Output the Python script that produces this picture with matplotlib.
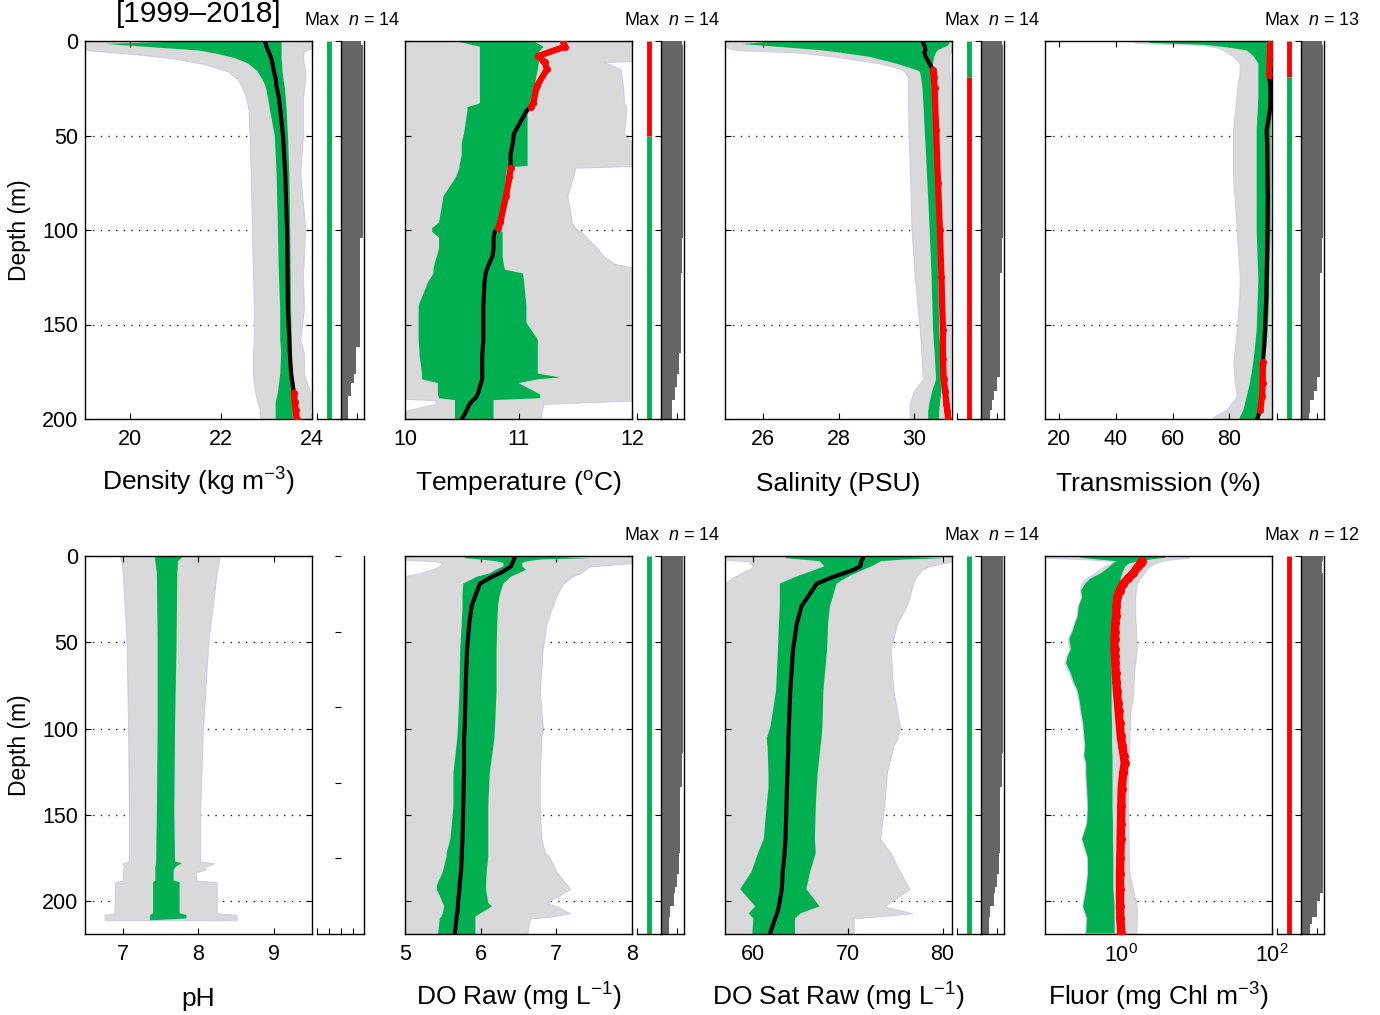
import numpy as np
import matplotlib.pyplot as plt

plt.rcParams['font.family'] = 'Liberation Sans'
plt.rcParams['mathtext.fontset'] = 'custom'
plt.rcParams['mathtext.rm'] = 'Liberation Sans'
plt.rcParams['mathtext.it'] = 'Liberation Sans:italic'
plt.rcParams['mathtext.bf'] = 'Liberation Sans:bold'
plt.rcParams['axes.linewidth'] = 1.0

######################################################################
# profile data (depth in m)

density_depth = [0, 1.5, 3, 5, 6.5, 9, 12, 16, 20, 24, 30, 36, 50, 70, 100, 123, 142, 158, 165, 176, 186, 191, 195, 200]
density_gray_lo = [18.9, 18.9, 18.9, 19.1, 19.9, 20.9, 21.6, 22.15, 22.35, 22.45, 22.55, 22.6, 22.63, 22.65, 22.68, 22.7, 22.72, 22.72, 22.7, 22.7, 22.75, 22.8, 22.85, 22.85]
density_gray_hi = [24.1, 24.1, 24.1, 23.85, 23.8, 23.8, 23.82, 23.85, 23.85, 23.83, 23.8, 23.8, 23.8, 23.74, 23.85, 23.8, 23.82, 23.74, 23.82, 23.82, 23.96, 23.96, 23.96, 23.96]
density_band_lo = [21.5, 19.45, 20.3, 21.5, 21.85, 22.3, 22.6, 22.8, 22.9, 22.98, 23.03, 23.07, 23.18, 23.22, 23.25, 23.27, 23.3, 23.3, 23.32, 23.3, 23.25, 23.2, 23.2, 23.2]
density_band_hi = [23.33, 23.33, 23.33, 23.33, 23.33, 23.33, 23.34, 23.35, 23.37, 23.4, 23.42, 23.44, 23.47, 23.5, 23.52, 23.53, 23.54, 23.55, 23.56, 23.56, 23.57, 23.58, 23.58, 23.58]
density_line = [22.97, 22.98, 23.0, 23.03, 23.06, 23.1, 23.13, 23.16, 23.2, 23.22, 23.27, 23.3, 23.36, 23.41, 23.45, 23.46, 23.47, 23.5, 23.51, 23.54, 23.6, 23.62, 23.64, 23.66]

temp_depth = [0, 3, 8, 10.6, 11, 15, 24, 33, 35, 37, 49, 54, 60, 66, 67, 72, 82, 96, 99, 101, 104, 110, 114, 118, 121, 123, 128, 140, 149, 158, 167, 176, 178, 179, 181, 187, 189, 190, 192, 197, 200]
temp_gray_lo = [9.9, 9.9, 9.9, 9.9, 9.9, 9.9, 9.9, 9.9, 9.9, 9.9, 9.9, 9.9, 9.9, 9.9, 9.9, 9.9, 9.9, 9.9, 9.9, 9.9, 9.9, 9.9, 9.9, 9.9, 9.9, 9.9, 9.9, 9.9, 9.9, 9.9, 9.9, 9.9, 9.9, 9.9, 9.9, 9.9, 9.9, 10.27, 10.27, 9.9, 9.9]
temp_gray_hi = [12.1, 12.1, 12.1, 12.1, 11.75, 11.9, 11.92, 11.93, 11.95, 11.95, 11.93, 12.0, 12.1, 12.1, 11.5, 11.48, 11.43, 11.47, 11.5, 11.55, 11.6, 11.7, 11.75, 11.85, 12.1, 12.1, 12.1, 12.1, 12.1, 12.1, 12.1, 12.1, 12.1, 12.1, 12.1, 12.1, 12.1, 12.1, 11.22, 11.2, 11.2]
temp_band_lo = [10.44, 10.66, 10.66, 10.66, 10.66, 10.66, 10.66, 10.66, 10.55, 10.55, 10.52, 10.5, 10.5, 10.48, 10.48, 10.45, 10.34, 10.3, 10.24, 10.24, 10.3, 10.3, 10.28, 10.26, 10.25, 10.25, 10.2, 10.12, 10.12, 10.12, 10.13, 10.15, 10.15, 10.15, 10.29, 10.29, 10.3, 10.44, 10.44, 10.44, 10.44]
temp_band_hi = [11.13, 11.22, 11.15, 11.18, 11.18, 11.17, 11.14, 11.1, 11.09, 11.08, 11.08, 11.08, 11.08, 11.08, 10.9, 10.89, 10.87, 10.82, 10.8, 10.86, 10.86, 10.86, 10.86, 10.87, 10.88, 11.04, 11.05, 11.07, 11.07, 11.17, 11.17, 11.17, 11.37, 11.17, 11.0, 11.19, 11.19, 10.78, 10.78, 10.78, 10.78]
temp_line = [11.39, 11.41, 11.17, 11.22, 11.23, 11.25, 11.16, 11.13, 11.11, 11.07, 10.96, 10.95, 10.93, 10.93, 10.93, 10.92, 10.89, 10.84, 10.82, 10.79, 10.78, 10.78, 10.77, 10.74, 10.72, 10.71, 10.7, 10.69, 10.69, 10.69, 10.68, 10.68, 10.68, 10.68, 10.67, 10.64, 10.62, 10.6, 10.57, 10.53, 10.5]

sal_depth = [0, 1.6, 2.6, 4.8, 6, 8.3, 11.8, 13.6, 15.3, 16.2, 18.9, 25, 47, 75, 100, 125, 153, 168, 179, 185, 192, 196, 200]
sal_gray_lo = [24.9, 24.9, 24.9, 25.3, 26.9, 27.95, 29.09, 29.45, 29.7, 29.75, 29.84, 29.84, 29.85, 29.9, 29.93, 30.02, 30.15, 30.2, 30.23, 30.0, 29.88, 29.88, 29.88]
sal_gray_hi = [31.05, 31.05, 31.05, 31.0, 30.95, 30.93, 30.92, 30.92, 30.93, 30.93, 30.94, 30.95, 30.95, 30.95, 30.95, 30.95, 30.95, 30.95, 30.95, 30.95, 30.95, 30.95, 30.95]
sal_band_lo = [26.5, 25.47, 26.1, 27.5, 28.0, 28.8, 29.5, 29.79, 30.05, 30.15, 30.18, 30.22, 30.28, 30.35, 30.41, 30.46, 30.5, 30.55, 30.58, 30.48, 30.4, 30.37, 30.37]
sal_band_hi = [30.95, 30.92, 30.88, 30.63, 30.58, 30.53, 30.5, 30.49, 30.48, 30.48, 30.49, 30.5, 30.55, 30.59, 30.62, 30.64, 30.66, 30.7, 30.75, 30.72, 30.68, 30.66, 30.65]
sal_line = [30.22, 30.25, 30.28, 30.3, 30.27, 30.3, 30.4, 30.45, 30.5, 30.51, 30.52, 30.54, 30.58, 30.63, 30.68, 30.72, 30.76, 30.76, 30.78, 30.82, 30.85, 30.88, 30.9]

trans_depth = [0, 1, 2, 3.5, 5, 8, 12, 18, 22, 29, 36, 47, 56, 73, 82, 100, 126, 135, 153, 162, 170, 181, 188, 195, 199, 200]
trans_gray_lo = [46, 47, 70, 76, 78, 81.3, 83.7, 83.5, 83, 82.5, 82, 81.3, 81.3, 81.3, 81.8, 82.6, 83.7, 83.5, 82.6, 82, 81.4, 82, 82.6, 79.0, 74.3, 74]
trans_gray_hi = [95.2, 95.2, 95.2, 95.2, 95.2, 95.2, 95.2, 95.2, 95.2, 95.2, 95.2, 95.2, 95.2, 95.2, 95.2, 95.2, 95.2, 95.2, 95.2, 95.2, 95.2, 95.2, 95.2, 95.2, 95.2, 95.2]
trans_band_lo = [50.8, 52, 71, 80, 86.1, 88.5, 90.2, 90.2, 90.2, 90.2, 90, 89.6, 89.6, 89.6, 89.6, 89.6, 90.2, 90, 89.6, 89, 88.4, 87.2, 86.1, 85, 83.7, 83.5]
trans_band_hi = [93.5, 93.5, 93.5, 93.5, 93.5, 93.5, 93.5, 93.5, 95, 95, 95, 94.5, 94.5, 94.5, 94.5, 94.5, 94, 94, 93.5, 93, 91.3, 91, 90.8, 90.5, 90.3, 90.3]
trans_line = [94.8, 94.6, 94.4, 94.3, 94.3, 94.2, 94.2, 94.0, 94.3, 94.5, 94.3, 93.1, 93.3, 93.4, 93.5, 93.4, 93.1, 93.0, 92.5, 92.2, 91.8, 91.7, 91.5, 90.9, 90.0, 89.8]

ph_depth = [0, 3, 10, 49, 99, 149, 177, 178, 180, 182, 183, 188, 189, 207, 208, 210, 211]
ph_gray_lo = [6.96, 6.98, 7.0, 7.05, 7.07, 7.08, 7.08, 7.0, 7.02, 7.0, 7.0, 7.0, 6.9, 6.89, 6.76, 6.76, 6.76]
ph_gray_hi = [8.28, 8.27, 8.24, 8.13, 8.06, 8.02, 8.02, 8.2, 8.1, 8.08, 7.97, 7.97, 8.24, 8.24, 8.5, 8.5, 8.5]
ph_band_lo = [7.42, 7.43, 7.45, 7.46, 7.46, 7.45, 7.44, 7.44, 7.43, 7.43, 7.43, 7.43, 7.4, 7.4, 7.36, 7.36, 7.36]
ph_band_hi = [7.8, 7.73, 7.72, 7.71, 7.69, 7.68, 7.69, 7.78, 7.7, 7.67, 7.67, 7.67, 7.75, 7.75, 7.84, 7.84, 7.4]

doraw_depth = [0, 1.3, 2, 3, 4, 6, 8, 10, 12, 16, 23, 29, 39, 54, 78, 99, 106, 126, 145, 164, 172, 174, 183, 191, 193, 201, 203, 207, 209, 210, 218, 219]
doraw_gray_lo = [4.95, 4.95, 4.95, 5.4, 5.5, 5.45, 5.35, 5.2, 4.95, 4.95, 4.95, 4.95, 4.95, 4.95, 4.95, 4.95, 4.95, 4.95, 4.95, 4.95, 4.95, 4.95, 4.95, 4.95, 4.95, 4.95, 4.95, 4.95, 4.95, 4.95, 4.95, 4.95]
doraw_gray_hi = [8.05, 8.05, 8.05, 8.05, 8.05, 7.44, 7.38, 7.31, 7.2, 7.09, 7.0, 6.95, 6.87, 6.82, 6.78, 6.82, 6.8, 6.78, 6.78, 6.8, 6.85, 6.9, 7.0, 7.15, 7.18, 6.87, 7.0, 7.18, 6.9, 6.65, 6.62, 6.62]
doraw_band_lo = [5.77, 5.8, 6.0, 6.2, 6.3, 6.3, 6.2, 6.12, 5.95, 5.77, 5.76, 5.76, 5.75, 5.73, 5.72, 5.7, 5.69, 5.64, 5.64, 5.6, 5.55, 5.55, 5.5, 5.42, 5.42, 5.5, 5.52, 5.5, 5.48, 5.46, 5.44, 5.44]
doraw_band_hi = [6.6, 7.44, 6.8, 6.62, 6.55, 6.55, 6.6, 6.5, 6.4, 6.3, 6.25, 6.23, 6.22, 6.21, 6.21, 6.19, 6.18, 6.12, 6.1, 6.1, 6.1, 6.1, 6.08, 6.07, 6.07, 6.1, 6.15, 6.0, 5.93, 5.93, 5.93, 5.93]
doraw_line = [6.45, 6.45, 6.44, 6.43, 6.42, 6.4, 6.33, 6.25, 6.15, 5.99, 5.93, 5.88, 5.85, 5.82, 5.8, 5.79, 5.78, 5.78, 5.77, 5.76, 5.75, 5.75, 5.74, 5.72, 5.72, 5.7, 5.7, 5.69, 5.68, 5.68, 5.66, 5.66]

dosat_depth = [0, 1.3, 2, 3, 6, 8, 12, 16, 29, 39, 54, 78, 99, 106, 110, 126, 134, 145, 164, 172, 183, 193, 203, 207, 210, 218, 219]
dosat_gray_lo = [56.9, 56.9, 56.9, 59.5, 60, 59.5, 58, 56.9, 56.9, 56.9, 56.9, 56.9, 56.9, 56.9, 56.9, 56.9, 56.9, 56.9, 56.9, 56.9, 56.9, 56.9, 56.9, 56.9, 56.9, 56.9, 56.9]
dosat_gray_hi = [81.1, 81.1, 81.1, 81.1, 78.5, 77.8, 77.2, 76.9, 76.2, 75.2, 74.5, 74.8, 75.5, 75.2, 74.8, 74.1, 74.0, 73.8, 73.4, 74.5, 75.5, 76.5, 73.8, 76.8, 70.6, 70.6, 70.6]
dosat_band_lo = [63.2, 63.5, 65, 67, 67.5, 66.5, 64.5, 62.8, 62.8, 62.7, 62.6, 62.4, 61.8, 61.4, 61.5, 61.6, 61.6, 61.4, 61.1, 60.5, 59.8, 58.6, 60.2, 59.5, 60.0, 59.9, 59.9]
dosat_band_hi = [74, 80.1, 76, 73.5, 72.5, 71.6, 70, 68.8, 68.1, 67.9, 67.8, 67.4, 67.3, 67.2, 67.1, 66.8, 66.7, 66.6, 66.5, 66.6, 66.0, 65.6, 67.0, 65.0, 64.4, 64.4, 64.4]
dosat_line = [71.6, 71.6, 71.5, 71.4, 71.3, 70.6, 68.5, 66.7, 65.1, 64.6, 64.2, 63.9, 63.75, 63.7, 63.7, 63.6, 63.55, 63.5, 63.4, 63.3, 63.1, 63.0, 62.7, 62.5, 62.3, 61.8, 61.8]

fluor_depth = [0, 1, 2, 3, 4.2, 6, 10, 13, 16, 20, 24, 29, 35, 39, 44, 48, 54, 58, 62, 68, 73, 78, 85, 90, 97, 104, 110, 116, 120, 126, 135, 145, 155, 164, 175, 184, 193, 203, 210, 218.5]
fluor_gray_lo = [0.105, 0.105, 0.4, 0.8, 0.75, 0.6, 0.45, 0.35, 0.3, 0.29, 0.3, 0.27, 0.26, 0.24, 0.22, 0.2, 0.21, 0.19, 0.18, 0.21, 0.23, 0.26, 0.28, 0.29, 0.31, 0.32, 0.33, 0.32, 0.34, 0.34, 0.35, 0.36, 0.35, 0.3, 0.36, 0.36, 0.34, 0.31, 0.35, 0.34]
fluor_gray_hi = [8.25, 8.0, 4.5, 3.3, 2.8, 2.4, 2.0, 1.8, 1.63, 1.58, 1.55, 1.55, 1.55, 1.58, 1.6, 1.6, 1.63, 1.6, 1.55, 1.5, 1.48, 1.47, 1.4, 1.35, 1.32, 1.3, 1.3, 1.28, 1.26, 1.25, 1.24, 1.24, 1.26, 1.27, 1.28, 1.3, 1.45, 1.63, 1.63, 1.6]
fluor_band_lo = [0.3, 0.29, 0.5, 0.88, 0.8, 0.72, 0.55, 0.4, 0.34, 0.3, 0.31, 0.28, 0.27, 0.25, 0.23, 0.21, 0.22, 0.2, 0.19, 0.22, 0.24, 0.27, 0.29, 0.3, 0.32, 0.33, 0.34, 0.33, 0.35, 0.35, 0.36, 0.37, 0.36, 0.31, 0.37, 0.37, 0.35, 0.32, 0.36, 0.35]
fluor_band_hi = [3.9, 3.9, 2.5, 1.8, 1.3, 1.15, 1.05, 1.0, 0.97, 0.9, 0.85, 0.82, 0.8, 0.78, 0.77, 0.76, 0.76, 0.76, 0.76, 0.76, 0.76, 0.76, 0.76, 0.76, 0.77, 0.77, 0.77, 0.78, 0.78, 0.78, 0.78, 0.78, 0.79, 0.79, 0.8, 0.8, 0.8, 0.83, 0.83, 0.83]
fluor_line = [1.9, 1.95, 1.92, 1.9, 1.85, 1.7, 1.47, 1.25, 1.08, 0.97, 0.9, 0.88, 0.87, 0.85, 0.84, 0.83, 0.83, 0.84, 0.85, 0.86, 0.88, 0.89, 0.92, 0.94, 0.97, 1.0, 1.05, 1.1, 1.13, 1.08, 1.03, 1.02, 1.01, 1.0, 0.99, 0.98, 0.98, 0.98, 0.99, 1.02]

# number of casts per depth (side bars) and the max-indicator colour bands
density_cnt_depth = [0, 2, 104, 123, 162, 176, 181, 188, 200]
density_cnt = [12.5, 14, 12, 11.6, 9.6, 8.1, 6.5, 4.4, 4.4]
temp_cnt_depth = [0, 2, 104, 123, 165, 176, 183, 190, 200]
temp_cnt = [13, 14, 13, 12.5, 11, 10, 8.5, 7, 7]
sal_cnt_depth = [0, 2, 104, 123, 178, 185, 190, 195, 200]
sal_cnt = [13, 14, 13.2, 12.2, 10, 7.9, 6.8, 5.8, 5.8]
trans_cnt_depth = [0, 2, 104, 123, 178, 185, 190, 197, 200]
trans_cnt = [13, 14, 13.2, 12.2, 10, 7.9, 5.8, 4.8, 4.8]
doraw_cnt_depth = [0, 2, 114, 134, 172, 184, 191.5, 195, 203, 209, 219]
doraw_cnt = [13.5, 14, 13.2, 12.2, 11.1, 10.1, 9, 7.9, 5.8, 4.7, 4.7]
dosat_cnt_depth = [0, 2, 114, 134, 172, 184, 191.5, 195, 203, 209, 219]
dosat_cnt = [13.5, 14, 13.2, 12.2, 11.1, 10.1, 9, 7.9, 5.8, 4.7, 4.7]
fluor_cnt_depth = [0, 3, 10, 20, 30, 195, 200, 209, 213, 219]
fluor_cnt = [14, 13, 14, 13.5, 14, 12.2, 10.1, 7, 5.8, 5.8]

density_max = [(0, 200, 'green')]
temp_max = [(0, 50, 'red'), (50, 200, 'green')]
sal_max = [(0, 19, 'green'), (19, 200, 'red')]
trans_max = [(0, 19, 'red'), (19, 200, 'green')]
doraw_max = [(0, 219, 'green')]
dosat_max = [(0, 219, 'green')]
fluor_max = [(0, 219, 'red')]

######################################################################

W, H = 1380, 1015
GRAY, EDGE, GREEN, RED, DARK = '#d9d9d9', '#cdcde8', '#00b050', '#ff0000', '#666666'
COLORS = {'green': GREEN, 'red': RED}
TICK_FS = 15.5

fig = plt.figure(figsize=(W / 100, H / 100), dpi=100)


def rect(x0, y0, x1, y1):
    return [x0 / W, 1 - y1 / H, (x1 - x0) / W, (y1 - y0) / H]


def main_panel(left, top, bottom, ymax, xlim, data, grid, xticks, xticklabels,
               log=False, first=False, red_lw=4.5):
    ax = fig.add_axes(rect(left, top, left + 227, bottom))
    depth, glo, ghi, blo, bhi, line = data
    depth = np.asarray(depth, float)
    if log:
        ax.set_xscale('log')
    for g in grid:
        ax.axhline(g, color='#222222', ls=(0, (1, 4.5)), lw=1.0, zorder=0)
    ax.fill_betweenx(depth, glo, ghi, facecolor=GRAY, edgecolor=EDGE, lw=0.8, zorder=1)
    ax.fill_betweenx(depth, blo, bhi, facecolor=GREEN, lw=0, zorder=2)
    if line is not None:
        line = np.asarray(line, float)
        out = (line > np.asarray(bhi)) | (line < np.asarray(blo))
        ax.plot(line, depth, color='k', lw=3, zorder=3)
        ax.plot(np.where(out, line, np.nan), depth, color=RED, lw=red_lw,
                marker='o', ms=red_lw * 0.9, solid_capstyle='round', zorder=4)
    ax.set_xlim(*xlim)
    ax.set_ylim(ymax, 0)
    ax.set_xticks(xticks)
    ax.set_xticklabels(xticklabels)
    ax.minorticks_off()
    ax.set_yticks([0, 50, 100, 150, 200])
    ax.tick_params(direction='in', length=4, width=0.8, top=True, right=True,
                   labelsize=TICK_FS, labelleft=first)
    ax.tick_params(axis='x', pad=7)
    ax.tick_params(axis='y', pad=5)
    return ax


def side_panels(left, top, bottom, ymax, maxsegs=None, cdepth=None, cn=None, empty=False):
    axb = fig.add_axes(rect(left + 232, top, left + 256, bottom))
    if maxsegs:
        for d0, d1, c in maxsegs:
            axb.plot([0.5, 0.5], [d0, d1], color=COLORS[c], lw=3.5, solid_capstyle='butt')
    axb.set_xlim(0, 1)
    axb.set_ylim(ymax, 0)
    for s in ['left', 'right', 'top']:
        axb.spines[s].set_visible(False)
    axb.set_yticks([])
    axb.set_xticks([0, 0.5] if empty else [0])
    axb.tick_params(axis='x', direction='in', length=4, labelbottom=False)

    axc = fig.add_axes(rect(left + 256, top, left + 279, bottom))
    axc.spines['top'].set_visible(False)
    if empty:
        axc.set_ylim(250, 0)
        axc.spines['left'].set_visible(False)
        axc.set_xlim(0, 2)
        axc.set_xticks([0, 1])
    else:
        axc.fill_betweenx(cdepth, 0, cn, step='post', facecolor=DARK, lw=0)
        axc.set_ylim(ymax, 0)
        axc.set_xlim(0, 14.4)
        axc.set_xticks([0, 10])
    axc.set_yticks([0, 50, 100, 150, 200])
    axc.tick_params(axis='y', direction='out', length=4, left=True, right=False,
                    labelleft=False)
    axc.tick_params(axis='x', direction='in', length=4, labelbottom=False)


TOP = (41, 419, 200)
BOT = (556, 934, 219)
LEFTS = [85, 405, 725, 1045]

panels = [
    dict(row=TOP, col=0, xlim=(19, 24), ticks=[20, 22, 24], labels=['20', '22', '24'],
         data=(density_depth, density_gray_lo, density_gray_hi, density_band_lo, density_band_hi, density_line),
         label='Density (kg m$^{-3}$)', maxn=14, maxsegs=density_max,
         cnt=(density_cnt_depth, density_cnt)),
    dict(row=TOP, col=1, xlim=(10, 12), ticks=[10, 11, 12], labels=['10', '11', '12'],
         data=(temp_depth, temp_gray_lo, temp_gray_hi, temp_band_lo, temp_band_hi, temp_line),
         label='Temperature ($^{\\mathrm{o}}$C)', maxn=14, maxsegs=temp_max,
         cnt=(temp_cnt_depth, temp_cnt)),
    dict(row=TOP, col=2, xlim=(25, 31), ticks=[26, 28, 30], labels=['26', '28', '30'],
         data=(sal_depth, sal_gray_lo, sal_gray_hi, sal_band_lo, sal_band_hi, sal_line),
         label='Salinity (PSU)', maxn=14, maxsegs=sal_max,
         cnt=(sal_cnt_depth, sal_cnt)),
    dict(row=TOP, col=3, xlim=(15, 95), ticks=[20, 40, 60, 80], labels=['20', '40', '60', '80'],
         data=(trans_depth, trans_gray_lo, trans_gray_hi, trans_band_lo, trans_band_hi, trans_line),
         label='Transmission (%)', maxn=13, maxsegs=trans_max,
         cnt=(trans_cnt_depth, trans_cnt)),
    dict(row=BOT, col=0, xlim=(6.5, 9.5), ticks=[7, 8, 9], labels=['7', '8', '9'],
         data=(ph_depth, ph_gray_lo, ph_gray_hi, ph_band_lo, ph_band_hi, None),
         label='pH', maxn=None, maxsegs=None, cnt=None),
    dict(row=BOT, col=1, xlim=(5, 8), ticks=[5, 6, 7, 8], labels=['5', '6', '7', '8'],
         data=(doraw_depth, doraw_gray_lo, doraw_gray_hi, doraw_band_lo, doraw_band_hi, doraw_line),
         label='DO Raw (mg L$^{-1}$)', maxn=14, maxsegs=doraw_max,
         cnt=(doraw_cnt_depth, doraw_cnt)),
    dict(row=BOT, col=2, xlim=(57, 81), ticks=[60, 70, 80], labels=['60', '70', '80'],
         data=(dosat_depth, dosat_gray_lo, dosat_gray_hi, dosat_band_lo, dosat_band_hi, dosat_line),
         label='DO Sat Raw (mg L$^{-1}$)', maxn=14, maxsegs=dosat_max,
         cnt=(dosat_cnt_depth, dosat_cnt)),
    dict(row=BOT, col=3, xlim=(0.1, 100), ticks=[1, 100], labels=['$10^{0}$', '$10^{2}$'],
         data=(fluor_depth, fluor_gray_lo, fluor_gray_hi, fluor_band_lo, fluor_band_hi, fluor_line),
         label='Fluor (mg Chl m$^{-3}$)', maxn=12, maxsegs=fluor_max,
         cnt=(fluor_cnt_depth, fluor_cnt), log=True),
]

for p in panels:
    top, bottom, ymax = p['row']
    left = LEFTS[p['col']]
    grid = [50, 100, 150] if ymax == 200 else [50, 100, 150, 200]
    main_panel(left, top, bottom, ymax, p['xlim'], p['data'], grid, p['ticks'], p['labels'],
               log=p.get('log', False), first=(p['col'] == 0),
               red_lw=6 if p.get('log') else 4.5)
    if p['cnt'] is None:
        side_panels(left, top, bottom, ymax, empty=True)
    else:
        side_panels(left, top, bottom, ymax, p['maxsegs'], p['cnt'][0], p['cnt'][1])
    base = 491 if top == 41 else 1006
    fig.text((left + 113.5) / W, 1 - base / H, p['label'], ha='center', va='baseline', fontsize=19)
    if p['maxn'] is not None:
        fig.text((left + 315) / W, 1 - (top - 16) / H, 'Max  $n$ = %d' % p['maxn'],
                 ha='right', va='baseline', fontsize=13)

fig.text(20 / W, 1 - 230 / H, 'Depth (m)', rotation=90, ha='center', va='center', fontsize=16.5)
fig.text(20 / W, 1 - 745 / H, 'Depth (m)', rotation=90, ha='center', va='center', fontsize=16.5)
fig.text(198.5 / W, 1 - 22 / H, '[1999\u20132018]', ha='center', va='baseline', fontsize=21.5)

plt.savefig('out.png', dpi=100)
